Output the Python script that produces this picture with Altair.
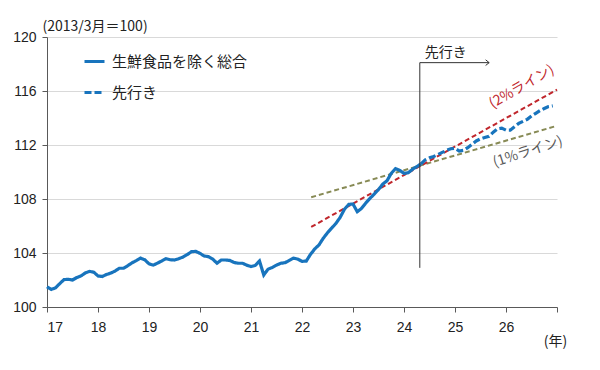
import altair as alt
import pandas as pd

# ---- data ----
start_year = 2017
actual_name = "生鮮食品を除く総合"
forecast_name = "先行き"

# monthly index, Jan 2017 onward
actual_values = [
    101.5, 101.3, 101.42, 101.73, 102.03, 102.05, 102.0, 102.18, 102.3, 102.52, 102.64, 102.58,
    102.3, 102.26, 102.41, 102.51, 102.66, 102.87, 102.87, 103.06, 103.27, 103.44, 103.62, 103.5,
    103.2, 103.1, 103.25, 103.41, 103.58, 103.5, 103.48, 103.58, 103.7, 103.88, 104.1, 104.12,
    103.97, 103.78, 103.73, 103.55, 103.24, 103.48, 103.48, 103.45, 103.3, 103.24, 103.24, 103.1,
    103.0, 103.08, 103.41, 102.37, 102.8, 102.93, 103.1, 103.24, 103.28, 103.45, 103.62, 103.55,
    103.38, 103.4, 103.9, 104.3, 104.6, 105.09, 105.5, 105.85, 106.2, 106.65, 107.25, 107.6,
    107.63, 107.06, 107.3, 107.7, 108.05, 108.37, 108.7, 109.1, 109.35, 109.9, 110.25, 110.12,
    109.9, 109.95, 110.2, 110.4, 110.6,
]
forecast_start_month = 88
forecast_values = [
    110.6, 110.9, 111.05, 111.15, 111.3, 111.45, 111.6, 111.72, 111.75, 111.55, 111.6, 111.8,
    112.05, 112.3, 112.45, 112.55, 112.65, 112.95, 113.2, 113.25, 113.1, 113.1, 113.35, 113.6,
    113.75, 113.9, 114.15, 114.35, 114.55, 114.7, 114.85, 114.9,
]

line2_t = [2022.18, 2027.0]
line2_v = [105.93, 116.1]
line1_t = [2022.18, 2027.0]
line1_v = [108.13, 113.42]

divider_t = 2024.31
divider_bottom = 102.9
divider_top = 118.1
arrow_end_t = 2025.67

x_ticks = list(range(2017, 2028))
y_ticks = [100, 104, 108, 112, 116, 120]

BLUE = "#1874bd"
RED = "#c0262c"
OLIVE = "#878a55"
JP = "Noto Sans CJK JP"
NUM = "Liberation Sans"

# ---- tables ----
rows = []
for m, v in enumerate(actual_values):
    rows.append({"t": start_year + m / 12, "v": v, "series": actual_name})
for i, v in enumerate(forecast_values):
    rows.append({"t": start_year + (forecast_start_month + i) / 12, "v": v, "series": forecast_name})
main_df = pd.DataFrame(rows)

l2_df = pd.DataFrame({"t": line2_t, "v": line2_v})
l1_df = pd.DataFrame({"t": line1_t, "v": line1_v})

x_enc = alt.X(
    "t:Q",
    scale=alt.Scale(domain=[2017, 2027], nice=False, zero=False),
    axis=alt.Axis(
        values=x_ticks,
        labelExpr="datum.value < 2027 ? '' + (datum.value - 2000) : ''",
        title="(年)",
        titleFont=JP,
        titleFontSize=14,
        titleFontWeight="normal",
        titleColor="#222222",
        titleX=508,
        titleY=34,
        titleAlign="center",
        titleBaseline="middle",
        labelFont=NUM,
        labelFontSize=14,
        labelColor="#222222",
        labelPadding=8,
        tickSize=5,
        tickColor="#595959",
        domainColor="#595959",
        grid=False,
    ),
)
y_enc = alt.Y(
    "v:Q",
    scale=alt.Scale(domain=[100, 120], nice=False, zero=False),
    axis=alt.Axis(
        values=y_ticks,
        title="(2013/3月＝100)",
        titleAngle=0,
        titleX=-5,
        titleY=-11,
        titleAlign="left",
        titleBaseline="middle",
        titleFont=JP,
        titleFontSize=14,
        titleFontWeight="normal",
        titleColor="#222222",
        labelFont=NUM,
        labelFontSize=14,
        labelColor="#222222",
        labelPadding=6,
        tickSize=5,
        tickColor="#595959",
        domainColor="#595959",
        grid=True,
        gridColor="#d9d9d9",
    ),
)

names = [actual_name, forecast_name]
legend = alt.Legend(
    title=None,
    orient="none",
    legendX=36,
    legendY=13,
    symbolType="stroke",
    symbolSize=400,
    symbolStrokeWidth=3,
    labelFont=JP,
    labelFontSize=15,
    labelColor="#222222",
    labelOffset=6,
    rowPadding=11,
    padding=0,
)

l2 = alt.Chart(l2_df).mark_line(color=RED, strokeDash=[5, 3], strokeWidth=2).encode(x=x_enc, y=y_enc)
l1 = alt.Chart(l1_df).mark_line(color=OLIVE, strokeDash=[5, 3], strokeWidth=2).encode(x=x_enc, y=y_enc)

main = alt.Chart(main_df).mark_line(strokeWidth=3.2).encode(
    x=x_enc,
    y=y_enc,
    color=alt.Color("series:N", scale=alt.Scale(domain=names, range=[BLUE, BLUE]), legend=legend),
    strokeDash=alt.StrokeDash("series:N", scale=alt.Scale(domain=names, range=[[1, 0], [7, 3]]), legend=legend),
    detail="series:N",
    order="t:Q",
)

div_df = pd.DataFrame({"t": [divider_t], "v": [divider_bottom], "v2": [divider_top], "t2": [arrow_end_t]})
vline = alt.Chart(div_df).mark_rule(color="#333333", strokeWidth=1).encode(x=x_enc, y=y_enc, y2="v2:Q")
harrow = alt.Chart(div_df).mark_rule(color="#333333", strokeWidth=1).encode(
    x=x_enc, x2="t2:Q", y=alt.Y("v2:Q", scale=alt.Scale(domain=[100, 120], nice=False, zero=False))
)
head_df = pd.DataFrame({"t": [arrow_end_t], "v": [divider_top]})
head = alt.Chart(head_df).mark_point(
    shape="M -1 -0.8 L 0 0 L -1 0.8", filled=False, stroke="#333333", strokeWidth=1, size=50, opacity=1
).encode(x=x_enc, y=y_enc)

ann_df = pd.DataFrame({
    "t": [2024.82, 2026.31, 2026.43],
    "v": [118.78, 116.3, 111.48],
    "label": ["先行き", "(2%ライン)", "(1%ライン)"],
})
ann_fore = alt.Chart(ann_df.iloc[[0]]).mark_text(font=JP, fontSize=14, color="#222222").encode(
    x=x_enc, y=y_enc, text="label:N")
ann_2 = alt.Chart(ann_df.iloc[[1]]).mark_text(font=JP, fontSize=14, color=RED, angle=330).encode(
    x=x_enc, y=y_enc, text="label:N")
ann_1 = alt.Chart(ann_df.iloc[[2]]).mark_text(font=JP, fontSize=14, color="#595959", angle=342).encode(
    x=x_enc, y=y_enc, text="label:N")

chart = alt.layer(l1, l2, main, vline, harrow, head, ann_fore, ann_2, ann_1).properties(
    width=510,
    height=270,
    padding={"left": 39, "top": 29, "right": 35, "bottom": 50},
    autosize=alt.AutoSizeParams(type="none"),
    background="white",
).configure_view(stroke=None)

chart.save("out.html", embed_options={"renderer": "svg", "actions": False})
